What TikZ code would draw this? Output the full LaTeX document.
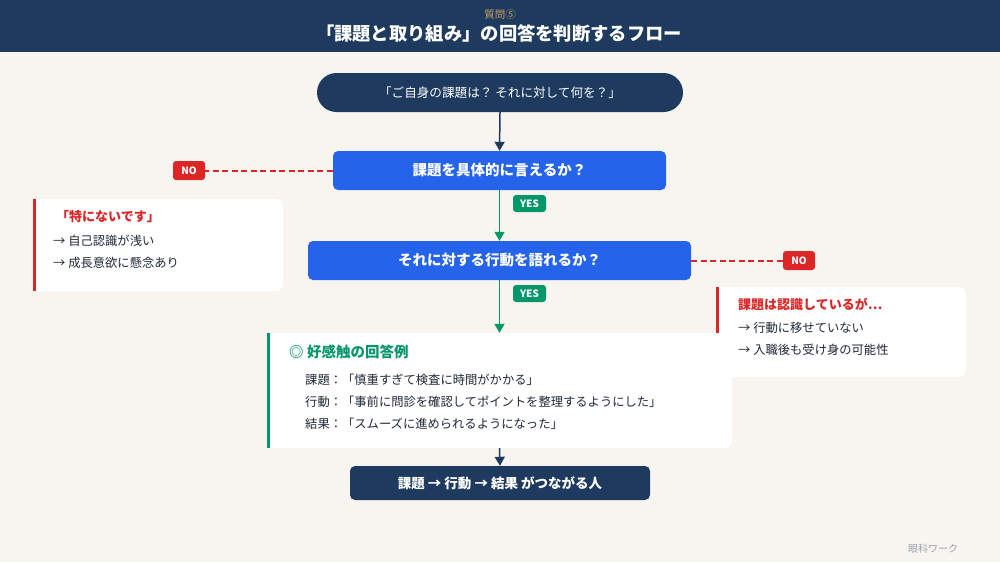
\documentclass[tikz,border=0pt]{standalone}
\usepackage{fontspec}
\setmainfont{Noto Sans CJK JP}
\usetikzlibrary{arrows.meta}
\definecolor{bg}{HTML}{F8F5F0}
\definecolor{navy}{HTML}{1E3A5F}
\definecolor{qblue}{HTML}{2563EB}
\definecolor{nored}{HTML}{DC2626}
\definecolor{yesgreen}{HTML}{059669}
\definecolor{ink}{HTML}{1F2937}
\definecolor{gold}{HTML}{C9A063}
\definecolor{foot}{HTML}{9CA3AF}
\tikzset{
  qbox/.style={fill=qblue, rounded corners=5pt, inner sep=0pt, text=white, font=\fontsize{14.5}{17}\selectfont\bfseries},
  tag/.style={rounded corners=3pt, inner sep=0pt, text=white, font=\fontsize{10}{12}\selectfont\bfseries},
  card/.style={fill=white, rounded corners=7pt, inner sep=0pt},
  body/.style={anchor=west, inner sep=0pt, text=ink, font=\fontsize{12.3}{15}\selectfont},
  head/.style={anchor=west, inner sep=0pt, font=\fontsize{13}{16}\selectfont\bfseries},
  navyarrow/.style={draw=navy, line width=1.5pt, -{Triangle[width=10pt,length=9pt]}},
  greenarrow/.style={draw=yesgreen, line width=1.5pt, -{Triangle[width=10pt,length=9pt]}},
  nodash/.style={draw=nored, line width=2pt, dash pattern=on 6pt off 3.5pt},
}
\begin{document}
\begin{tikzpicture}[x=1pt,y=-1pt]
\fill[bg] (0,0) rectangle (1000,562);
\useasboundingbox (0,0) rectangle (1000,562);
% header
\fill[navy] (0,0) rectangle (1000,52);
\node[inner sep=0pt, text=gold, font=\fontsize{10.5}{12}\selectfont] (sub) at (500,15) {質問⑤};
\node[inner sep=0pt, text=white, font=\fontsize{18.3}{21}\selectfont\bfseries] (title) at (499,34) {「課題と取り組み」の回答を判断するフロー};
% start pill
\node[fill=navy, rounded corners=19.5pt, minimum width=366pt, minimum height=39pt, inner sep=0pt, text=white, font=\fontsize{12.6}{15}\selectfont] (start) at (500,92.5) {「ご自身の課題は？ それに対して何を？」};
% question 1
\node[qbox, minimum width=333pt, minimum height=39pt] (q1) at (499.5,170.5) {課題を具体的に言えるか？};
% question 2
\node[qbox, minimum width=383pt, minimum height=39pt] (q2) at (499.5,260.5) {それに対する行動を語れるか？};
% NO tags
\node[tag, fill=nored, minimum width=32pt, minimum height=19pt] (no1) at (189,170.5) {NO};
\node[tag, fill=nored, minimum width=32pt, minimum height=19pt] (no2) at (799,260.5) {NO};
% YES tags
\node[tag, fill=yesgreen, minimum width=33pt, minimum height=17pt] (yes1) at (529.5,203.5) {YES};
\node[tag, fill=yesgreen, minimum width=33pt, minimum height=17pt] (yes2) at (529.5,293.5) {YES};
% left card
\node[card, minimum width=250pt, minimum height=92pt] (lcard) at (158,245) {};
\fill[nored] (lcard.north west) rectangle ([xshift=3.5pt]lcard.south west);
\node[head, text=nored] (l1) at (56,217) {「特にないです」};
\node[body] (l2) at (53,241) {→ 自己認識が浅い};
\node[body] (l3) at (53,263) {→ 成長意欲に懸念あり};
% right card
\node[card, minimum width=250pt, minimum height=90pt] (rcard) at (841,332) {};
\fill[nored] (rcard.north west) rectangle ([xshift=3.5pt]rcard.south west);
\node[head, text=nored] (r1) at (738,304) {課題は認識しているが…};
\node[body] (r2) at (738,328) {→ 行動に移せていない};
\node[body] (r3) at (738,350) {→ 入職後も受け身の可能性};
% good example card
\node[card, minimum width=465pt, minimum height=115pt] (good) at (499.5,390.5) {};
\fill[yesgreen] (good.north west) rectangle ([xshift=3.5pt]good.south west);
\node[anchor=west, inner sep=0pt, text=yesgreen, font=\fontsize{14.5}{17}\selectfont\bfseries] (g0) at (289,352) {◎ 好感触の回答例};
\node[body] (g1) at (305,380) {課題：「慎重すぎて検査に時間がかかる」};
\node[body] (g2) at (305,402) {行動：「事前に問診を確認してポイントを整理するようにした」};
\node[body] (g3) at (305,424) {結果：「スムーズに進められるようになった」};
% final
\node[fill=navy, rounded corners=5pt, minimum width=300pt, minimum height=34pt, inner sep=0pt, text=white, font=\fontsize{13.5}{16}\selectfont\bfseries] (final) at (500,483) {課題 → 行動 → 結果 がつながる人};
% connectors
\draw[navyarrow] (start.south) -- (q1.north);
\draw[greenarrow] (q1.south) -- (q2.north);
\draw[greenarrow] (q2.south) -- (good.north);
\draw[navyarrow] (good.south) -- (final.north);
\draw[nodash] (q1.west) -- (no1.east);
\draw[nodash] (q2.east) -- (no2.west);
% footer
\node[inner sep=0pt, text=foot, font=\fontsize{10}{12}\selectfont] (footer) at (933,549) {眼科ワーク};
\end{tikzpicture}
\end{document}
